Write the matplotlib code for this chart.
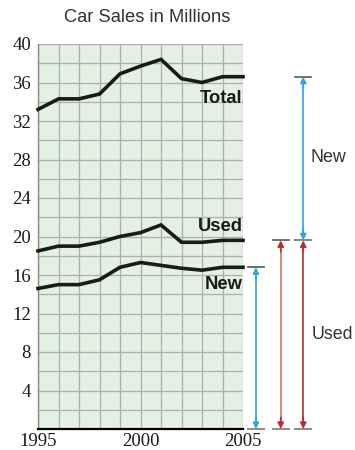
import matplotlib
matplotlib.use("Agg")
import matplotlib.pyplot as plt
import numpy as np

years = [1995, 1996, 1997, 1998, 1999, 2000, 2001, 2002, 2003, 2004, 2005]
total = [33.2, 34.3, 34.3, 34.8, 36.9, 37.7, 38.4, 36.4, 36.0, 36.6, 36.6]
used = [18.5, 19.0, 19.0, 19.4, 20.0, 20.4, 21.2, 19.4, 19.4, 19.6, 19.6]
new = [14.6, 15.0, 15.0, 15.5, 16.8, 17.3, 17.0, 16.7, 16.5, 16.8, 16.8]
y_ticks = [4, 8, 12, 16, 20, 24, 28, 32, 36, 40]
x_ticks = [1995, 2000, 2005]
title = "Car Sales in Millions"

fig = plt.figure(figsize=(3.55, 4.5), dpi=100)
ax = fig.add_axes([38 / 355, 1 - 429 / 450, 205 / 355, 385 / 450])
ax.set_facecolor("#e3f0e3")
ax.set_xlim(1995, 2005)
ax.set_ylim(0, 40)

# fine grid: one column per year, one row per 2 million
for yr in years:
    ax.axvline(yr, color="#adaead", lw=0.9, zorder=1)
for v in np.arange(2, 41, 2):
    ax.axhline(v, color="#adaead", lw=0.9, zorder=1)

for s in ["top", "right"]:
    ax.spines[s].set_visible(False)
ax.spines["left"].set_color("#8a8a8a")
ax.spines["left"].set_linewidth(1.0)
ax.spines["bottom"].set_color("black")
ax.spines["bottom"].set_linewidth(1.6)

line_kw = dict(color="#1a1a1a", lw=2.6, solid_joinstyle="miter", zorder=3, clip_on=False)
ax.plot(years, total, **line_kw)
ax.plot(years, used, **line_kw)
ax.plot(years, new, **line_kw)

lab_kw = dict(ha="right", va="center", fontsize=13.2, fontweight="bold",
              family="Liberation Sans", color="#1a1a1a", zorder=4)
ax.text(2004.97, 34.3, "Total", **lab_kw)
ax.text(2004.97, 21.0, "Used", **lab_kw)
ax.text(2004.97, 15.0, "New", **lab_kw)

ax.set_yticks(y_ticks)
ax.set_xticks(x_ticks)
ax.tick_params(length=0, labelsize=13.5, colors="#1a1a1a", pad=5)
for t in ax.get_yticklabels() + ax.get_xticklabels():
    t.set_family("Liberation Serif")
ax.tick_params(axis="x", pad=3)

fig.text(147 / 355, 1 - 18 / 450, title, ha="center", va="center",
         fontsize=13.2, family="Liberation Sans", color="#333333")

# brackets showing how the 2005 total splits into new and used
blue = "#2ba7e0"
red_light = "#d4736a"
red_dark = "#b8302a"
bar_gray = "#555555"


def bracket(x, y0, y1, color, head_color=None, tick_l=0.38, top_tick=True):
    head_color = head_color or color
    ax.plot([x, x], [y0 + 0.5, y1 - 0.5], color=color, lw=1.2,
            clip_on=False, zorder=5)
    for tip, back in ((y0, y0 + 1.2), (y1, y1 - 1.2)):
        ax.annotate("", xy=(x, tip), xytext=(x, back),
                    arrowprops=dict(arrowstyle="-|>", color=head_color, lw=1.2,
                                    mutation_scale=9, shrinkA=0, shrinkB=0),
                    annotation_clip=False, zorder=6)
    if top_tick:
        ax.plot([x - tick_l, x + tick_l], [y1, y1], color=bar_gray, lw=1.2,
                clip_on=False, zorder=5)
    ax.plot([x - tick_l, x + tick_l], [y0, y0], color="#8a8a8a", lw=1.4,
            clip_on=False, zorder=5)


bracket(2005.63, 0, new[-1], blue)
bracket(2006.84, 0, used[-1], red_light, head_color=red_dark)
bracket(2007.94, 0, used[-1], red_dark)
bracket(2007.94, used[-1], total[-1], blue)

ax.text(2009.15, 28.2, "New", ha="center", va="center", fontsize=12.8,
        family="Liberation Sans", color="#333333")
ax.text(2009.35, 9.8, "Used", ha="center", va="center", fontsize=12.8,
        family="Liberation Sans", color="#333333")

fig.savefig("out.png", dpi=100)
